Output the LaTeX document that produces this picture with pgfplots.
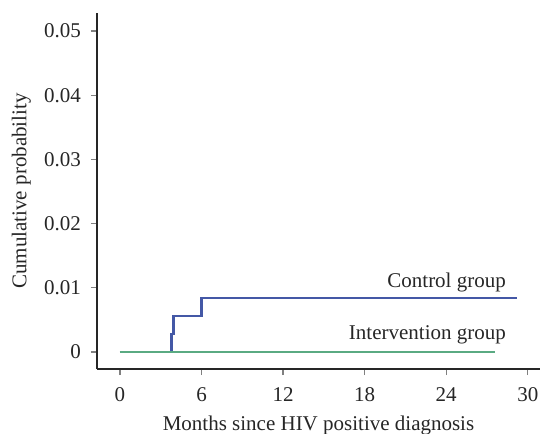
\documentclass[border=0pt]{standalone}
\usepackage{fontspec}
\setmainfont{Liberation Serif}
\usepackage{pgfplots}
\pgfplotsset{compat=1.18}
\definecolor{ctrl}{RGB}{68,88,166}
\definecolor{intv}{RGB}{90,170,130}
\begin{document}
\fontsize{21bp}{25bp}\selectfont
\begin{tikzpicture}
\useasboundingbox (-97bp,-65bp) rectangle (445bp,369bp);
\begin{axis}[
  at={(0,0)}, anchor=south west,
  scale only axis, width=443bp, height=356bp,
  xmin=-1.69, xmax=30.9, ymin=-0.00265, ymax=0.0528,
  axis x line*=bottom, axis y line*=left,
  axis line style={black!85, line width=1.2bp},
  xtick={0,6,12,18,24,30},
  ytick={0,0.01,0.02,0.03,0.04,0.05},
  yticklabels={0,0.01,0.02,0.03,0.04,0.05},
  scaled y ticks=false,
  tick style={gray, line width=1.2bp}, tick align=outside, major tick length=6bp,
  /pgf/number format/assume math mode=true,
  every tick label/.append style={font=\fontsize{21bp}{25bp}\selectfont, text=black!85},
  x tick label style={yshift=-5bp},
  y tick label style={xshift=-3bp},
  label style={font=\fontsize{21bp}{25bp}\selectfont, text=black!85},
  xlabel={Months since HIV positive diagnosis},
  xlabel style={yshift=0bp},
  ylabel={Cumulative probability},
  ylabel style={yshift=-1bp},
  clip=false,
]
\addplot[const plot, ctrl, line width=2.5bp] coordinates {(0,0) (3.8,0.0028) (3.92,0.0056) (6,0.0084) (29.2,0.0084)};
\addplot[intv, line width=2.5bp] coordinates {(0,0) (27.6,0)};
\node[anchor=east, text=black!85, inner sep=0pt] at (axis cs:28.4,0.0109) {Control group};
\node[anchor=east, text=black!85, inner sep=0pt] at (axis cs:28.4,0.0026) {Intervention group};
\end{axis}
\end{tikzpicture}
\end{document}
